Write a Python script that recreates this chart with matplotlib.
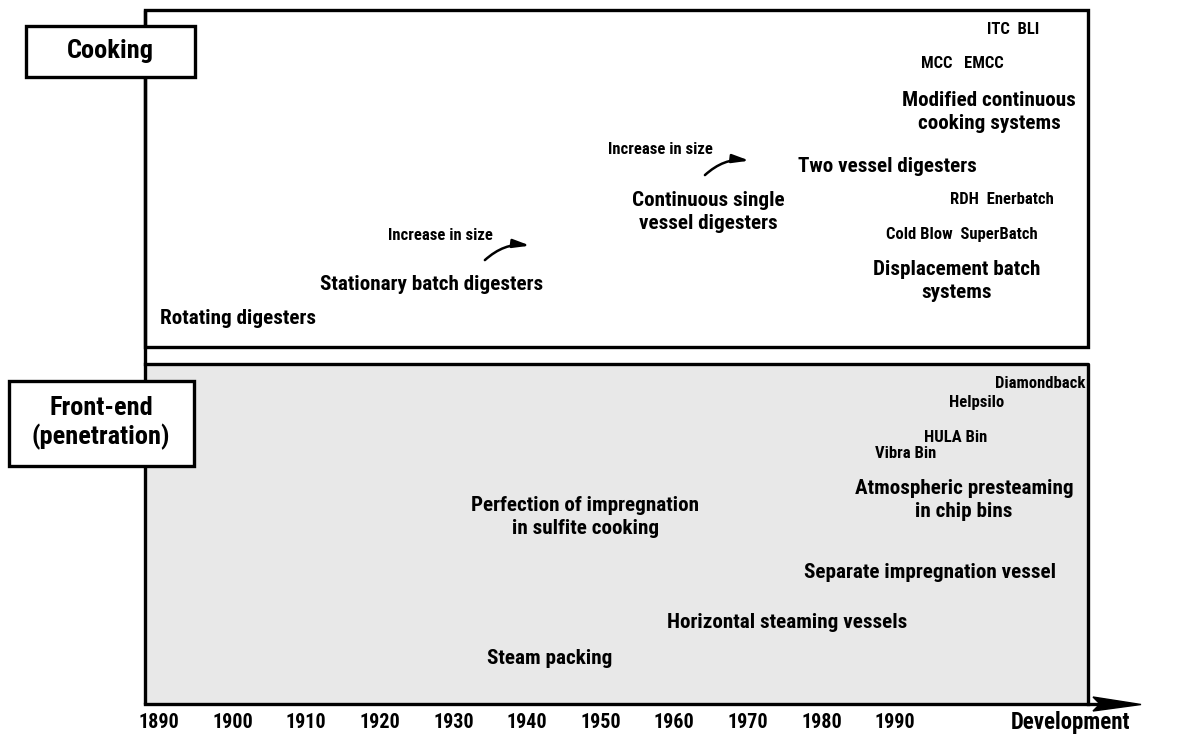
import matplotlib
matplotlib.use("Agg")
import matplotlib.pyplot as plt
from matplotlib.patches import Rectangle, Polygon
from matplotlib import font_manager as fm

# ---------------- data ----------------
tick_years = [1890, 1900, 1910, 1920, 1930, 1940, 1950, 1960, 1970, 1980, 1990]
axis_label = "Development"

cooking_labels = ["Rotating digesters", "Stationary batch digesters",
                  "Continuous single\nvessel digesters", "Two vessel digesters",
                  "ITC  BLI", "MCC   EMCC", "Modified continuous\ncooking systems",
                  "RDH  Enerbatch", "Cold Blow  SuperBatch",
                  "Displacement batch\nsystems"]
cooking_years = [1900.7, 1927.1, 1964.7, 1989.0, 2006.0, 1999.1, 2002.8,
                 2004.5, 1999.1, 1998.4]
cooking_rows = [319, 285, 212, 166, 30, 63, 112, 199, 234, 281]
cooking_sizes = ["L", "L", "L", "L", "S", "S", "L", "S", "S", "L"]

size_labels = ["Increase in size", "Increase in size"]
size_years = [1928.2, 1958.1]
size_rows = [235, 150]
arrow_start_years = [1934.0, 1963.9]
arrow_end_years = [1940.8, 1970.6]

front_labels = ["Diamondback", "Helpsilo", "HULA Bin", "Vibra Bin",
                "Atmospheric presteaming\nin chip bins",
                "Perfection of impregnation\nin sulfite cooking",
                "Separate impregnation vessel", "Horizontal steaming vessels",
                "Steam packing"]
front_years = [2009.7, 2001.1, 1998.3, 1991.4, 1999.4, 1947.9, 1994.8,
               1975.3, 1943.1]
front_rows = [384, 403, 437, 453, 500, 517, 573, 623, 658]
front_sizes = ["S", "S", "S", "S", "L", "L", "L", "L", "L"]

section_labels = ["Cooking", "Front-end\n(penetration)"]

# ---------------- font ----------------
bold_fams = {f.name for f in fm.fontManager.ttflist
             if isinstance(f.weight, int) and f.weight >= 700}
prefs = ["Roboto Condensed", "Archivo Narrow", "IBM Plex Sans Condensed",
         "Open Sans Condensed", "DejaVu Sans"]
FAM = [p for p in prefs if p in bold_fams][:1] + ["DejaVu Sans"]

# ---------------- layout ----------------
W, H = 1181, 740
fig = plt.figure(figsize=(W / 100, H / 100), dpi=100)
ax = fig.add_axes([0, 0, 1, 1])
px_per_year = 7.36
x0_year = 1890 - 159 / px_per_year
ax.set_xlim(x0_year, x0_year + W / px_per_year)
ax.set_ylim(H, 0)
ax.axis("off")

def yr(px):
    return x0_year + px / px_per_year

fs = {"L": 15.2, "S": 12}
left = yr(145)
right = yr(1088)
base = 704
lw = 2.4

ax.add_patch(Rectangle((left, 10), right - left, 347 - 10, facecolor="white",
                       edgecolor="black", lw=lw, zorder=1))
ax.add_patch(Rectangle((left, 364), right - left, base - 364, facecolor="#e8e8e8",
                       edgecolor="none", lw=0, zorder=1))
ax.plot([left, right, right], [364, 364, base], color="black", lw=lw, zorder=6)
ax.plot([left, left], [10, base], color="black", lw=lw, zorder=2,
        solid_capstyle="butt")
ax.plot([left, yr(1100)], [base, base], color="black", lw=lw, zorder=6)
ax.add_patch(Polygon([(yr(1093), base - 7), (yr(1141), base + 0.5),
                      (yr(1093), base + 7), (yr(1100), base)],
                     closed=True, facecolor="black", edgecolor="black", zorder=6))

ax.add_patch(Rectangle((yr(26), 26), yr(195) - yr(26), 51, facecolor="white",
                       edgecolor="black", lw=lw, zorder=4))
ax.add_patch(Rectangle((yr(9), 381), yr(194) - yr(9), 85, facecolor="white",
                       edgecolor="black", lw=lw, zorder=4))
ax.text(yr(110), 51, section_labels[0], ha="center", va="center",
        fontsize=19, fontweight="bold", family=FAM, zorder=5)
ax.text(yr(101), 423, section_labels[1], ha="center", va="center",
        fontsize=19, fontweight="bold", family=FAM, zorder=5, linespacing=1.15)

for t, x, y, s in zip(cooking_labels, cooking_years, cooking_rows, cooking_sizes):
    ax.text(x, y, t, ha="center", va="center", fontsize=fs[s], fontweight="bold",
            family=FAM, zorder=5, linespacing=1.28)

for t, x, y in zip(size_labels, size_years, size_rows):
    ax.text(x, y, t, ha="center", va="center", fontsize=fs["S"], fontweight="bold",
            family=FAM, zorder=5)
for xs, xe, y in zip(arrow_start_years, arrow_end_years, size_rows):
    ax.annotate("", xy=(xe, y + 11), xytext=(xs, y + 27),
                arrowprops=dict(arrowstyle="-|>,head_length=1.0,head_width=0.25",
                                connectionstyle="arc3,rad=-0.25",
                                color="black", lw=1.8), zorder=5)

for t, x, y, s in zip(front_labels, front_years, front_rows, front_sizes):
    ax.text(x, y, t, ha="center", va="center", fontsize=fs[s], fontweight="bold",
            family=FAM, zorder=5, linespacing=1.28, clip_on=False)

for yv in tick_years:
    ax.text(yv, 722, str(yv), ha="center", va="center", fontsize=14.5,
            fontweight="bold", family=FAM)
ax.text(yr(1071), 722, axis_label, ha="center", va="center", fontsize=16.5,
        fontweight="bold", family=FAM)

fig.savefig("out.png", dpi=100)
